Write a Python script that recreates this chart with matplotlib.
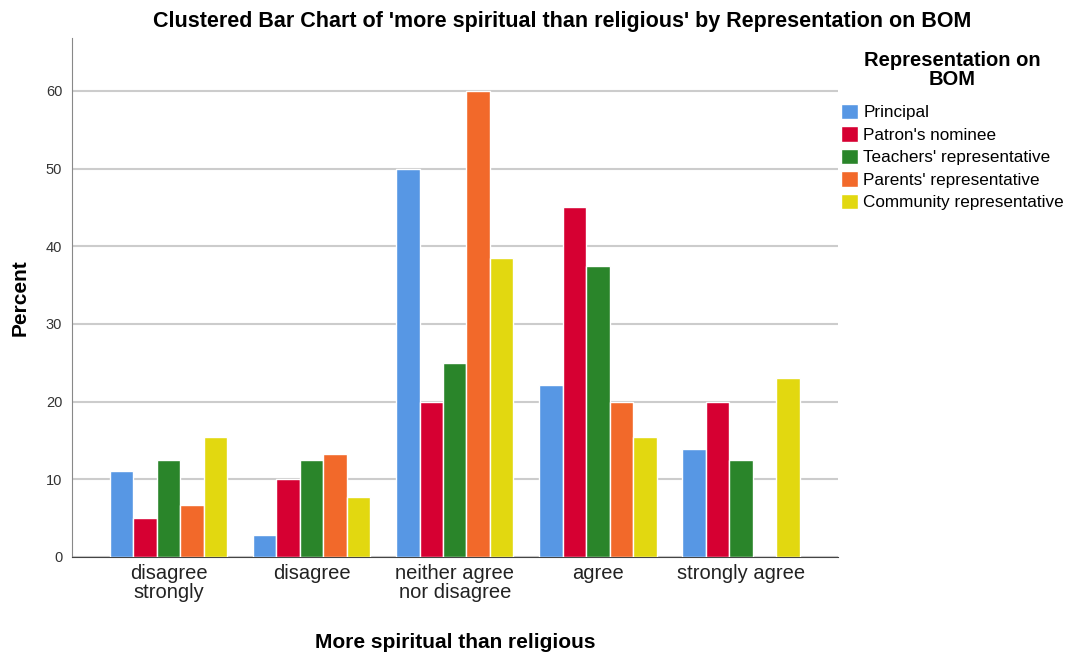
import matplotlib
matplotlib.use("Agg")
import matplotlib.pyplot as plt
import numpy as np

plt.rcParams['font.family'] = ['Liberation Sans', 'DejaVu Sans']

categories = ["disagree\nstrongly", "disagree", "neither agree\nnor disagree", "agree", "strongly agree"]
series_names = ["Principal", "Patron's nominee", "Teachers' representative",
                "Parents' representative", "Community representative"]
principal = [11.1, 2.8, 50.0, 22.2, 13.9]
patron = [5.0, 10.0, 20.0, 45.0, 20.0]
teachers = [12.5, 12.5, 25.0, 37.5, 12.5]
parents = [6.7, 13.3, 60.0, 20.0, 0.0]
community = [15.4, 7.7, 38.5, 15.4, 23.1]
yticks = [0, 10, 20, 30, 40, 50, 60]

series = [principal, patron, teachers, parents, community]
colors = ["#5797E4", "#D60032", "#2A852A", "#F2692A", "#E2D810"]

fig = plt.figure(figsize=(10.65, 6.55), dpi=100)
ax = fig.add_axes([72/1065, 1-557/655, (838-72)/1065, (557-38)/655])

x = np.arange(len(categories))
pitch = 0.164
for i, (vals, c, name) in enumerate(zip(series, colors, series_names)):
    ax.bar(x + (i - 2) * pitch, vals, width=pitch, color=c, edgecolor='white',
           linewidth=1.0, label=name, zorder=3)

ax.set_xlim(-0.674, 4.678)
ax.set_ylim(0, 66.8)
ax.set_yticks(yticks)
ax.set_yticklabels([str(t) for t in yticks], fontsize=10.5, color='#333333')
ax.set_xticks(x)
ax.set_xticklabels(categories, fontsize=14.5, color='#222222', linespacing=1.0)
ax.yaxis.grid(True, color='#CCCCCC', linewidth=1.5, zorder=0)
ax.set_axisbelow(True)
for s in ['top', 'right']:
    ax.spines[s].set_visible(False)
ax.spines['left'].set_color('#888888')
ax.spines['bottom'].set_color('#444444')
ax.tick_params(axis='y', length=0, pad=7)
ax.tick_params(axis='x', length=0, pad=5)

ax.set_ylabel("Percent", fontsize=15, fontweight='bold', labelpad=12)
ax.set_xlabel("More spiritual than religious", fontsize=15, fontweight='bold', labelpad=22)
fig.text(562/1065, 1 - 22/655,
         "Clustered Bar Chart of 'more spiritual than religious' by Representation on BOM",
         ha='center', va='center', fontsize=15.5, fontweight='bold')

fig.text(952/1065, 1 - 70/655, "Representation on\nBOM", ha='center', va='center',
         fontsize=14.5, fontweight='bold', linespacing=1.0, multialignment='center')

leg = fig.legend(*ax.get_legend_handles_labels(), loc='upper left',
                 bbox_to_anchor=(841/1065, 1 - 104/655),
                 frameon=False, fontsize=12.3,
                 handlelength=1.0, handleheight=1.0, handletextpad=0.3,
                 labelspacing=0.35, borderaxespad=0, borderpad=0)

fig.savefig("out.png", dpi=100)
